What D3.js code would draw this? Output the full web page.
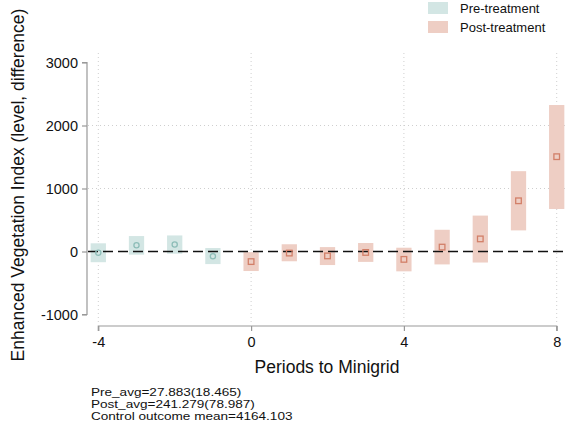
<!DOCTYPE html>
<html>
<head>
<meta charset="utf-8">
<script src="https://cdn.jsdelivr.net/npm/d3@7"></script>
<style>
  body { margin: 0; background: #fff; }
  svg { display: block; font-family: "Liberation Sans", Arial, Helvetica, sans-serif; }
</style>
</head>
<body>
<div id="chart"></div>
<script>
// event-study estimates
const periods   = [-4, -3, -2, -1, 0, 1, 2, 3, 4, 5, 6, 7, 8];
const estimates = [-20, 100, 110, -75, -160, -25, -70, -15, -125, 70, 200, 805, 1505];
const ciLower   = [-170, -50, -35, -200, -310, -155, -215, -165, -315, -205, -175, 335, 675];
const ciUpper   = [130, 245, 255, 55, -10, 115, 70, 135, 60, 345, 570, 1275, 2325];
const xTicks = [-4, 0, 4, 8];
const yTicks = [-1000, 0, 1000, 2000, 3000];
const gridY = [1000, 2000];
const legendLabels = ['Pre-treatment', 'Post-treatment'];
const notes = ['Pre_avg=27.883(18.465)', 'Post_avg=241.279(78.987)', 'Control outcome mean=4164.103'];

const W = 568, H = 435;
const preFill = '#d3e6e4', preLine = '#8dbdb8';
const postFill = '#eecec4', postLine = '#d27f68';

const svg = d3.select('#chart').append('svg')
    .attr('width', W)
    .attr('height', H);

const x = d3.scaleLinear().domain([-4, 8]).range([98.3, 556.7]);
const y = d3.scaleLinear().domain([-1000, 3000]).range([314.5, 62.5]);

const plotLeft = 88, plotRight = 568, plotTop = 53, plotBottom = 325;

const data = periods.map((p, i) => ({
    p, est: estimates[i], lo: ciLower[i], hi: ciUpper[i], pre: p < 0
}));

// gridlines
svg.append('g').selectAll('line')
    .data(gridY)
    .enter().append('line')
    .attr('x1', plotLeft).attr('x2', plotRight)
    .attr('y1', d => y(d)).attr('y2', d => y(d))
    .attr('stroke', '#cfcfcf')
    .attr('stroke-width', 1)
    .attr('stroke-dasharray', '1,3');

svg.append('g').selectAll('line')
    .data(xTicks)
    .enter().append('line')
    .attr('x1', d => x(d)).attr('x2', d => x(d))
    .attr('y1', plotTop).attr('y2', plotBottom)
    .attr('stroke', '#cfcfcf')
    .attr('stroke-width', 1)
    .attr('stroke-dasharray', '1,3');

// confidence bars
const halfW = 0.2;
svg.append('g').selectAll('rect')
    .data(data)
    .enter().append('rect')
    .attr('x', d => x(d.p - halfW))
    .attr('width', d => x(d.p + halfW) - x(d.p - halfW))
    .attr('y', d => y(d.hi))
    .attr('height', d => y(d.lo) - y(d.hi))
    .attr('fill', d => d.pre ? preFill : postFill);

// zero line
svg.append('line')
    .attr('x1', plotLeft).attr('x2', plotRight)
    .attr('y1', y(0)).attr('y2', y(0))
    .attr('stroke', '#111')
    .attr('stroke-width', 1.3)
    .attr('stroke-dasharray', '10,5');

// markers
svg.append('g').selectAll('circle')
    .data(data.filter(d => d.pre))
    .enter().append('circle')
    .attr('cx', d => x(d.p))
    .attr('cy', d => y(d.est))
    .attr('r', 2.6)
    .attr('fill', 'none')
    .attr('stroke', preLine)
    .attr('stroke-width', 1.3);

svg.append('g').selectAll('rect')
    .data(data.filter(d => !d.pre))
    .enter().append('rect')
    .attr('x', d => x(d.p) - 2.8)
    .attr('y', d => y(d.est) - 2.8)
    .attr('width', 5.6)
    .attr('height', 5.6)
    .attr('fill', 'none')
    .attr('stroke', postLine)
    .attr('stroke-width', 1.3);

// axes (plain hyphen for negatives, like the original)
const fmt = d => String(d);
const yAxis = svg.append('g')
    .attr('transform', 'translate(87,0)')
    .call(d3.axisLeft(y).tickValues(yTicks).tickSize(5).tickPadding(4).tickFormat(fmt));
const xAxis = svg.append('g')
    .attr('transform', 'translate(0,326)')
    .call(d3.axisBottom(x).tickValues(xTicks).tickSize(5).tickPadding(6).tickFormat(fmt));

[yAxis, xAxis].forEach(a => {
    a.select('.domain').attr('stroke', '#999').attr('stroke-width', 1.2);
    a.selectAll('.tick line').attr('stroke', '#999').attr('stroke-width', 1.2);
    a.selectAll('.tick text')
        .attr('fill', '#111')
        .attr('font-size', '14.5px')
        .attr('font-family', '"Liberation Sans", Arial, sans-serif');
});
// stata-style axis ends without outer ticks
yAxis.select('.domain').attr('d', `M-5,${y(-1000)}H0V${y(3000)}H-5`);
xAxis.select('.domain').attr('d', `M${x(-4)},5V0H${x(8)}V5`);

// axis titles
svg.append('text')
    .attr('x', 327)
    .attr('y', 373)
    .attr('text-anchor', 'middle')
    .attr('font-size', '17.5px')
    .attr('fill', '#111')
    .text('Periods to Minigrid');

svg.append('text')
    .attr('transform', 'translate(24,185) rotate(-90)')
    .attr('text-anchor', 'middle')
    .attr('font-size', '17.5px')
    .attr('fill', '#111')
    .text('Enhanced Vegetation Index (level, difference)');

// legend
const legend = svg.append('g');
legendLabels.forEach((lab, i) => {
    legend.append('rect')
        .attr('x', 428)
        .attr('y', 2 + i * 19)
        .attr('width', 20)
        .attr('height', 12)
        .attr('fill', i === 0 ? preFill : postFill);
    legend.append('text')
        .attr('x', 460)
        .attr('y', 13 + i * 19)
        .attr('font-size', '13px')
        .attr('fill', '#111')
        .text(lab);
});

// notes - the original text is a bit wide, so stretch horizontally
svg.append('g')
    .attr('transform', 'translate(91,0) scale(1.2,1)')
    .selectAll('text')
    .data(notes)
    .enter().append('text')
    .attr('x', 0)
    .attr('y', (d, i) => 396 + i * 11.8)
    .attr('font-size', '11.3px')
    .attr('fill', '#111')
    .text(d => d);
</script>
</body>
</html>
